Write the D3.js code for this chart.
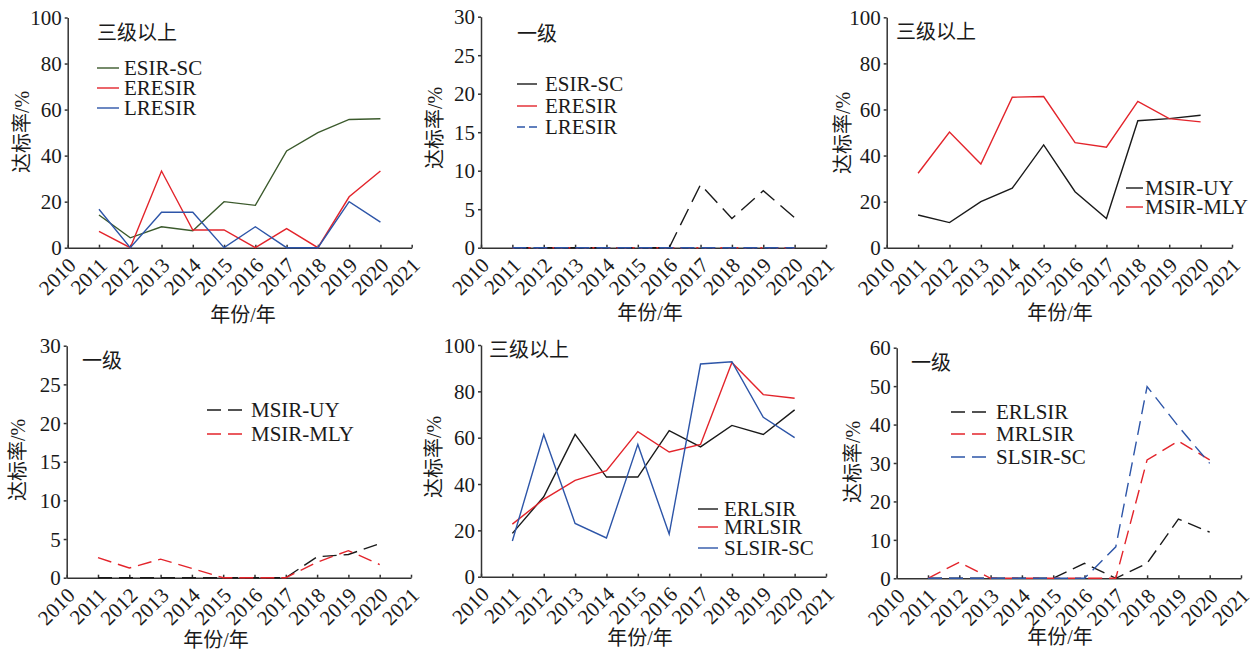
<!DOCTYPE html>
<html>
<head>
<meta charset="utf-8">
<script src="https://cdn.jsdelivr.net/npm/d3@7"></script>
<style>
  body { margin: 0; background: #fff; }
  text { font-family: "Liberation Serif", "Noto Sans CJK SC", serif; fill: #1a1a1a; }
</style>
</head>
<body>
<div id="chart"></div>
<script>
// years on the x axis (data points) and the full tick range
var years = [2011, 2012, 2013, 2014, 2015, 2016, 2017, 2018, 2019, 2020];
var tickYears = [2010, 2011, 2012, 2013, 2014, 2015, 2016, 2017, 2018, 2019, 2020, 2021];

// y tick labels
var ticks100 = [0, 20, 40, 60, 80, 100];
var ticks30 = [0, 5, 10, 15, 20, 25, 30];
var ticks60 = [0, 10, 20, 30, 40, 50, 60];

// panel 1: 三级以上
var p1EsirSc = [14.2, 4.3, 9.1, 7.4, 20, 18.4, 42, 50, 55.7, 56];
var p1Eresir = [7.1, 0, 33.3, 7.7, 7.7, 0, 8.3, 0, 22.1, 33.3];
var p1Lresir = [16.7, 0, 15.4, 15.4, 0, 9.1, 0, 0, 20, 11.1];

// panel 2: 一级
var p2EsirSc = [0, 0, 0, 0, 0, 0, 8.2, 3.8, 7.4, 3.9];
var p2Eresir = [0, 0, 0, 0, 0, 0, 0, 0, 0, 0];
var p2Lresir = [0, 0, 0, 0, 0, 0, 0, 0, 0, 0];

// panel 3: 三级以上
var p3MsirUy = [14.2, 10.9, 20, 25.8, 44.6, 24.3, 12.7, 55.1, 56, 57.5];
var p3MsirMly = [32.3, 50.2, 36.3, 65.3, 65.6, 45.6, 43.6, 63.5, 56, 54.6];

// panel 4: 一级
var p4MsirUy = [0, 0, 0, 0, 0, 0, 0, 2.7, 3.0, 4.4];
var p4MsirMly = [2.6, 1.25, 2.4, 1.2, 0, 0, 0, 2.0, 3.5, 1.7];

// panel 5: 三级以上
var p5Erlsir = [18.7, 34.5, 61.4, 43, 43, 63, 56, 65.3, 61.4, 72];
var p5Mrlsir = [22.7, 33.4, 41.6, 45.8, 62.6, 53.8, 57.1, 92.4, 78.6, 77];
var p5Slsir = [15.4, 61.4, 23, 16.7, 57.1, 18.4, 91.8, 92.8, 68.8, 60];

// panel 6: 一级
var p6Erlsir = [0, 0, 0, 0, 0, 3.9, 0, 3.9, 15.4, 12];
var p6Mrlsir = [0, 4.2, 0, 0, 0, 0, 0, 30.8, 35.7, 30.8];
var p6Slsir = [0, 0, 0, 0, 0, 0, 8.2, 49.9, 39.5, 29.9];

var green = "#3b5a2c", red = "#e3242b", blue = "#2d55a8", black = "#1a1a1a";
var dash = "14,7";

// layout of the six panels
var panels = [
  { left: 67.7, right: 411.7, top: 17.5, bottom: 247.7, yMax: 100, yTicks: ticks100,
    title: "三级以上", titleX: 97, titleY: 33,
    yTitleX: 22, yTitleY: 132, xTitleX: 243, xTitleY: 315,
    legX: 97, legLen: 22, legTextX: 124, legY: [68, 88, 108],
    series: [
      { name: "ESIR-SC", values: p1EsirSc, color: green, dash: null },
      { name: "ERESIR", values: p1Eresir, color: red, dash: null },
      { name: "LRESIR", values: p1Lresir, color: blue, dash: null }
    ] },
  { left: 481, right: 826, top: 16.7, bottom: 247.7, yMax: 30, yTicks: ticks30,
    title: "一级", titleX: 517, titleY: 34,
    yTitleX: 435, yTitleY: 128, xTitleX: 650, xTitleY: 313,
    legX: 517, legLen: 20, legTextX: 545, legY: [84, 106, 127],
    series: [
      { name: "ESIR-SC", values: p2EsirSc, color: black, dash: "18,8", legDash: null },
      { name: "ERESIR", values: p2Eresir, color: red, dash: "2,6", legDash: null },
      { name: "LRESIR", values: p2Lresir, color: blue, dash: "14,7", legDash: "8,4" }
    ] },
  { left: 886.7, right: 1232, top: 17.3, bottom: 247.7, yMax: 100, yTicks: ticks100,
    title: "三级以上", titleX: 896, titleY: 32,
    yTitleX: 843, yTitleY: 133, xTitleX: 1060, xTitleY: 313,
    legX: 1126, legLen: 17, legTextX: 1145, legY: [188, 207],
    series: [
      { name: "MSIR-UY", values: p3MsirUy, color: black, dash: null },
      { name: "MSIR-MLY", values: p3MsirMly, color: red, dash: null }
    ] },
  { left: 66.7, right: 411, top: 345.7, bottom: 577.7, yMax: 30, yTicks: ticks30,
    title: "一级", titleX: 82, titleY: 361,
    yTitleX: 18, yTitleY: 460, xTitleX: 216, xTitleY: 640,
    legX: 207, legLen: 36, legTextX: 251, legY: [410, 434],
    series: [
      { name: "MSIR-UY", values: p4MsirUy, color: black, dash: dash },
      { name: "MSIR-MLY", values: p4MsirMly, color: red, dash: dash }
    ] },
  { left: 481, right: 826, top: 345, bottom: 576.7, yMax: 100, yTicks: ticks100,
    title: "三级以上", titleX: 489, titleY: 350,
    yTitleX: 434, yTitleY: 457, xTitleX: 640, xTitleY: 638,
    legX: 698, legLen: 20, legTextX: 724, legY: [509, 527, 548],
    series: [
      { name: "ERLSIR", values: p5Erlsir, color: black, dash: null },
      { name: "MRLSIR", values: p5Mrlsir, color: red, dash: null },
      { name: "SLSIR-SC", values: p5Slsir, color: blue, dash: null }
    ] },
  { left: 896.7, right: 1241, top: 347.7, bottom: 578.3, yMax: 60, yTicks: ticks60,
    title: "一级", titleX: 911, titleY: 363,
    yTitleX: 853, yTitleY: 462, xTitleX: 1060, xTitleY: 637,
    legX: 951, legLen: 36, legTextX: 996, legY: [412, 434, 457],
    series: [
      { name: "ERLSIR", values: p6Erlsir, color: black, dash: dash },
      { name: "MRLSIR", values: p6Mrlsir, color: red, dash: dash },
      { name: "SLSIR-SC", values: p6Slsir, color: blue, dash: dash }
    ] }
];

var svg = d3.select("#chart")
  .append("svg")
  .attr("width", 1259)
  .attr("height", 653);

panels.forEach(function(p) {
  var x = d3.scaleLinear().domain([2010, 2021]).range([p.left, p.right]);
  var y = d3.scaleLinear().domain([0, p.yMax]).range([p.bottom, p.top]);

  var g = svg.append("g");

  // x axis, ticks point up into the plot
  var xAxis = g.append("g")
    .attr("transform", `translate(0, ${p.bottom})`)
    .call(d3.axisBottom(x)
      .tickValues(tickYears)
      .tickFormat(d3.format("d"))
      .tickSizeInner(-3)
      .tickSizeOuter(0));

  xAxis.selectAll("text")
    .attr("y", null)
    .attr("dy", null)
    .attr("text-anchor", "end")
    .attr("transform", "translate(9, 19) rotate(-45)")
    .style("font-size", "21px");

  // y axis
  var yAxis = g.append("g")
    .attr("transform", `translate(${p.left}, 0)`)
    .call(d3.axisLeft(y)
      .tickValues(p.yTicks)
      .tickSizeInner(3)
      .tickSizeOuter(0)
      .tickPadding(3));

  yAxis.selectAll("text")
    .attr("dy", "0.34em")
    .style("font-size", "21px");

  g.selectAll(".domain, .tick line")
    .attr("stroke", "#333")
    .attr("stroke-width", 1.5);

  // series lines
  var drawLine = d3.line()
    .x((d, i) => x(years[i]))
    .y(d => y(d));

  p.series.forEach(function(s) {
    g.append("path")
      .datum(s.values)
      .attr("d", drawLine)
      .attr("fill", "none")
      .attr("stroke", s.color)
      .attr("stroke-width", 1.4)
      .attr("stroke-dasharray", s.dash);
  });

  // legend
  p.series.forEach(function(s, i) {
    var ld = s.legDash !== undefined ? s.legDash : s.dash;
    g.append("line")
      .attr("x1", p.legX)
      .attr("x2", p.legX + p.legLen)
      .attr("y1", p.legY[i])
      .attr("y2", p.legY[i])
      .attr("stroke", s.color)
      .attr("stroke-width", 1.4)
      .attr("stroke-dasharray", ld);
    g.append("text")
      .attr("x", p.legTextX)
      .attr("y", p.legY[i])
      .attr("dy", "0.35em")
      .style("font-size", "21px")
      .text(s.name);
  });

  // panel title
  g.append("text")
    .attr("x", p.titleX)
    .attr("y", p.titleY)
    .attr("dy", "0.35em")
    .style("font-size", "20px")
    .text(p.title);

  // axis titles
  g.append("text")
    .attr("transform", `translate(${p.yTitleX}, ${p.yTitleY}) rotate(-90)`)
    .attr("text-anchor", "middle")
    .attr("dy", "0.35em")
    .style("font-size", "20px")
    .text("达标率/%");

  g.append("text")
    .attr("x", p.xTitleX)
    .attr("y", p.xTitleY)
    .attr("text-anchor", "middle")
    .attr("dy", "0.35em")
    .style("font-size", "20px")
    .text("年份/年");
});
</script>
</body>
</html>
